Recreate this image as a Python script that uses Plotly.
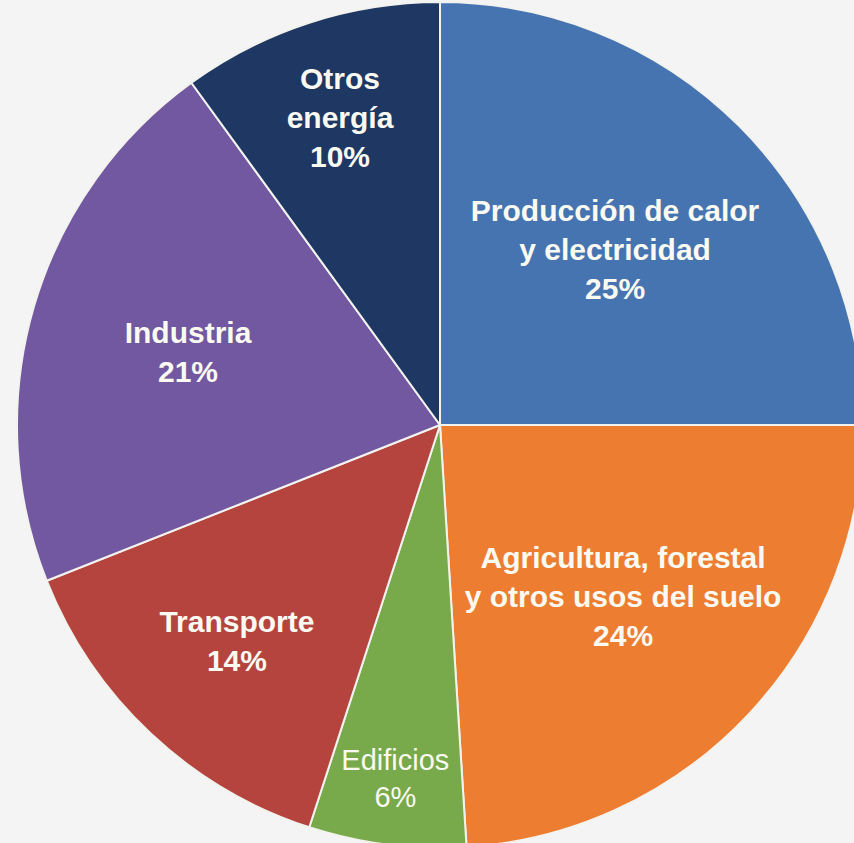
import plotly.graph_objects as go

# Emisiones por sector (porcentaje del total)
sectores = [
    "Producción de calor<br>y electricidad",
    "Agricultura, forestal<br>y otros usos del suelo",
    "Edificios",
    "Transporte",
    "Industria",
    "Otros<br>energía",
]
porcentajes = [25, 24, 6, 14, 21, 10]
colores = ["#4674B0", "#ED7D31", "#78A94A", "#B5443E", "#7258A0", "#1E3763"]
negrita = [True, True, False, True, True, True]
tamanos = [30, 30, 29, 30, 30, 30]

textos = []
for nombre, valor, b in zip(sectores, porcentajes, negrita):
    t = f"{nombre}<br>{valor}%"
    textos.append(f"<b>{t}</b>" if b else t)

W, H = 880, 860
cx, cy, r = 440, 425, 423

fig = go.Figure(
    go.Pie(
        labels=[s.replace("<br>", " ") for s in sectores],
        values=porcentajes,
        text=textos,
        textinfo="text",
        textposition="inside",
        insidetextorientation="horizontal",
        sort=False,
        direction="clockwise",
        rotation=0,
        marker=dict(colors=colores, line=dict(color="#F2F2EE", width=2)),
        insidetextfont=dict(family="Liberation Sans, Arial, sans-serif",
                            size=tamanos, color="#FAFAF2"),
        hoverinfo="label+percent",
        domain=dict(x=[(cx - r) / W, (cx + r) / W],
                    y=[(H - cy - r) / H, (H - cy + r) / H]),
    )
)

fig.update_layout(
    width=W,
    height=H,
    margin=dict(l=0, r=0, t=0, b=0, pad=0),
    paper_bgcolor="#F4F4F4",
    plot_bgcolor="#F4F4F4",
    showlegend=False,
)

fig.write_html(
    "out.html",
    post_script="document.documentElement.style.overflow='hidden';"
                "document.body.style.overflow='hidden';",
)
